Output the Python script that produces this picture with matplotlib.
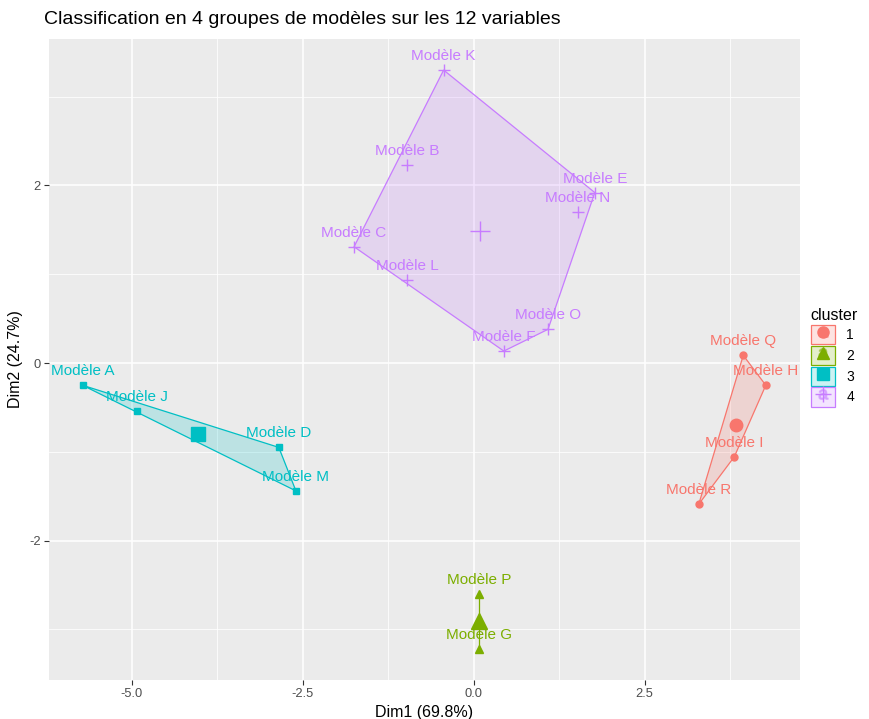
import matplotlib
matplotlib.use("Agg")
import matplotlib.pyplot as plt
from matplotlib.patches import Polygon, Patch
from matplotlib.lines import Line2D
from matplotlib.legend_handler import HandlerTuple
import numpy as np

plt.rcParams['font.family'] = ['Liberation Sans', 'DejaVu Sans']

# Individuals projected on the first two principal dimensions
models = ["Modèle A", "Modèle J", "Modèle D", "Modèle M",
          "Modèle Q", "Modèle H", "Modèle I", "Modèle R",
          "Modèle P", "Modèle G",
          "Modèle K", "Modèle B", "Modèle C", "Modèle L",
          "Modèle F", "Modèle O", "Modèle N", "Modèle E"]
dim1 = [-5.72, -4.93, -2.85, -2.60,
        3.94, 4.27, 3.81, 3.29,
        0.08, 0.08,
        -0.44, -0.98, -1.75, -0.975,
        0.44, 1.086, 1.525, 1.77]
dim2 = [-0.25, -0.54, -0.95, -1.44,
        0.087, -0.25, -1.055, -1.59,
        -2.60, -3.22,
        3.30, 2.23, 1.31, 0.935,
        0.135, 0.38, 1.70, 1.92]
cluster = [3, 3, 3, 3,
           1, 1, 1, 1,
           2, 2,
           4, 4, 4, 4, 4, 4, 4, 4]

cluster_ids = [1, 2, 3, 4]
cluster_colors = {1: "#F8766D", 2: "#7CAE00", 3: "#00BFC4", 4: "#C77CFF"}
cluster_markers = {1: "o", 2: "^", 3: "s", 4: "+"}
point_sizes = {1: 5, 2: 6, 3: 5, 4: 8}
center_sizes = {1: 9, 2: 11, 3: 10, 4: 14}

x_breaks = [-5.0, -2.5, 0.0, 2.5]
x_minor = [-3.75, -1.25, 1.25, 3.75]
y_breaks = [-2, 0, 2]
y_minor = [-3, -1, 1, 3]


def convex_hull(pts):
    pts = sorted(set(pts))
    if len(pts) <= 2:
        return pts

    def cross(o, a, b):
        return (a[0] - o[0]) * (b[1] - o[1]) - (a[1] - o[1]) * (b[0] - o[0])

    lower, upper = [], []
    for p in pts:
        while len(lower) >= 2 and cross(lower[-2], lower[-1], p) <= 0:
            lower.pop()
        lower.append(p)
    for p in reversed(pts):
        while len(upper) >= 2 and cross(upper[-2], upper[-1], p) <= 0:
            upper.pop()
        upper.append(p)
    return lower[:-1] + upper[:-1]


fig = plt.figure(figsize=(8.7, 7.19), dpi=100)
ax = fig.add_axes([49 / 870, 1 - 680 / 719, 751 / 870, 641 / 719])
ax.set_facecolor("#EBEBEB")
ax.set_xlim(-6.21, 4.77)
ax.set_ylim(-3.57, 3.65)

# grid
for v in x_minor:
    ax.axvline(v, color="white", lw=0.55, zorder=0)
for v in y_minor:
    ax.axhline(v, color="white", lw=0.55, zorder=0)
for v in x_breaks:
    ax.axvline(v, color="white", lw=1.1, zorder=0)
for v in y_breaks:
    ax.axhline(v, color="white", lw=1.1, zorder=0)

x = np.array(dim1)
y = np.array(dim2)
cl = np.array(cluster)

for c in cluster_ids:
    m = cl == c
    col = cluster_colors[c]
    pts = list(zip(x[m], y[m]))
    hull = convex_hull(pts)
    if len(hull) >= 3:
        ax.add_patch(Polygon(hull, closed=True, facecolor=col, alpha=0.2,
                             edgecolor="none", zorder=1))
        ax.add_patch(Polygon(hull, closed=True, facecolor="none",
                             edgecolor=col, lw=0.9, zorder=2))
    else:
        hx, hy = zip(*hull)
        ax.plot(hx, hy, color=col, lw=0.9, zorder=2)
    ax.plot(x[m], y[m], linestyle="none", marker=cluster_markers[c],
            ms=point_sizes[c], color=col, mew=1.0, zorder=3)
    ax.plot([x[m].mean()], [y[m].mean()], linestyle="none",
            marker=cluster_markers[c], ms=center_sizes[c], color=col,
            mew=1.0, zorder=3)

for name, xi, yi, c in zip(models, dim1, dim2, cluster):
    ax.annotate(name, (xi, yi), xytext=(0, 5.0), textcoords="offset points",
                ha="center", va="bottom", fontsize=11,
                color=cluster_colors[c], zorder=4)

for s in ax.spines.values():
    s.set_visible(False)
ax.set_xticks(x_breaks)
ax.set_xticklabels(["-5.0", "-2.5", "0.0", "2.5"])
ax.set_yticks(y_breaks)
ax.set_yticklabels(["-2", "0", "2"])
ax.tick_params(axis="both", length=3.5, width=0.8, color="#333333",
               labelcolor="#4D4D4D", labelsize=9.3, pad=2.5)
ax.set_xlabel("Dim1 (69.8%)", fontsize=11.5, labelpad=3)
ax.set_ylabel("Dim2 (24.7%)", fontsize=11.5, labelpad=4)

fig.text(44 / 870, 1 - 20 / 719, "Classification en 4 groupes de modèles sur les 12 variables",
         fontsize=14, ha="left", va="center")

handles = []
for c in cluster_ids:
    col = cluster_colors[c]
    handles.append((
        Patch(facecolor=matplotlib.colors.to_rgba(col, 0.2), edgecolor=col, lw=0.9),
        Line2D([], [], linestyle="none", marker=r"$\mathregular{a}$", ms=7,
               color=col, alpha=0.45),
        Line2D([], [], linestyle="none", marker=cluster_markers[c],
               ms=8 if c != 4 else 11, color=col, mew=1.0),
    ))
leg = fig.legend(handles, [str(c) for c in cluster_ids], title="cluster",
                 handler_map={tuple: HandlerTuple(ndivide=1, pad=0)},
                 loc="center left", bbox_to_anchor=(808 / 870, 0.503),
                 frameon=False, fontsize=10, title_fontsize=11.5,
                 handlelength=1.75, handleheight=1.75, labelspacing=0.12,
                 handletextpad=0.8, borderaxespad=0, borderpad=0.2)
leg._legend_box.align = "left"

fig.savefig("out.png", dpi=100)
